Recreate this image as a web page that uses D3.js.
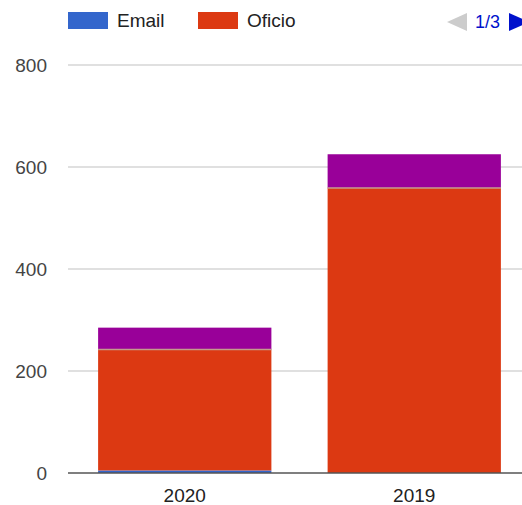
<!DOCTYPE html>
<html>
<head>
<meta charset="utf-8">
<script src="https://cdn.jsdelivr.net/npm/d3@7"></script>
<style>
  body { margin: 0; background: #fff; }
  svg { display: block; font-family: Arial, "Liberation Sans", sans-serif; }
</style>
</head>
<body>
<script>
// Data
const years = ['2020', '2019'];
const seriesNames = ['Email', 'Oficio', 'Otro'];
const email = [5, 0];
const oficio = [237, 559];
const otro = [43, 66];
const colors = ['#3366cc', '#dc3912', '#990099'];
const yTicks = [0, 200, 400, 600, 800];

const width = 522, height = 505;
const margin = { left: 68, right: -7, top: 65, bottom: 32 };

const svg = d3.select('body').append('svg')
    .attr('width', width)
    .attr('height', height);

const x = d3.scaleBand()
    .domain(years)
    .range([margin.left + 2, width - margin.right])
    .paddingInner(0.245)
    .paddingOuter(0.1225);

const y = d3.scaleLinear()
    .domain([0, 800])
    .range([height - margin.bottom, margin.top]);

// gridlines
svg.append('g')
    .selectAll('line')
    .data(yTicks.filter(d => d > 0))
    .join('line')
    .attr('x1', margin.left)
    .attr('x2', width)
    .attr('y1', d => y(d))
    .attr('y2', d => y(d))
    .attr('stroke', '#e0e0e0')
    .attr('stroke-width', 2);

// y axis labels
svg.append('g')
    .selectAll('text')
    .data(yTicks)
    .join('text')
    .attr('x', 47)
    .attr('y', d => y(d) + 7)
    .attr('text-anchor', 'end')
    .style('font-size', '19px')
    .style('fill', '#444')
    .text(d => d);

// stacked bars
const rows = years.map((yr, i) => ({ year: yr, Email: email[i], Oficio: oficio[i], Otro: otro[i] }));
const stack = d3.stack().keys(seriesNames)(rows);

svg.append('g')
    .selectAll('g')
    .data(stack)
    .join('g')
    .attr('fill', (d, i) => colors[i])
    .selectAll('rect')
    .data(d => d)
    .join('rect')
    .attr('x', d => x(d.data.year))
    .attr('width', x.bandwidth())
    .attr('y', d => y(d[1]))
    .attr('height', d => y(d[0]) - y(d[1]));

// thin separators between stacked segments
svg.append('g')
    .selectAll('line')
    .data(stack[1].filter(d => d[1] > d[0]))
    .join('line')
    .attr('x1', d => x(d.data.year))
    .attr('x2', d => x(d.data.year) + x.bandwidth())
    .attr('y1', d => y(d[1]))
    .attr('y2', d => y(d[1]))
    .attr('stroke', '#c49a8c')
    .attr('stroke-width', 1.5);

// baseline
svg.append('line')
    .attr('x1', margin.left)
    .attr('x2', width)
    .attr('y1', y(0))
    .attr('y2', y(0))
    .attr('stroke', '#555')
    .attr('stroke-width', 1.5);

// x axis labels
svg.append('g')
    .selectAll('text')
    .data(years)
    .join('text')
    .attr('x', d => x(d) + x.bandwidth() / 2)
    .attr('y', 502)
    .attr('text-anchor', 'middle')
    .style('font-size', '19px')
    .style('fill', '#222')
    .text(d => d);

// legend (first page)
const legend = svg.append('g');
const legendX = [68, 198];
seriesNames.slice(0, 2).forEach((name, i) => {
    legend.append('rect')
        .attr('x', legendX[i])
        .attr('y', 12)
        .attr('width', 40)
        .attr('height', 17)
        .attr('fill', colors[i]);
    legend.append('text')
        .attr('x', legendX[i] + 49)
        .attr('y', 27)
        .style('font-size', '19px')
        .style('fill', '#222')
        .text(name);
});

// legend paging
legend.append('path')
    .attr('d', 'M467,13 L467,31 L447,22 Z')
    .attr('fill', '#ccc');
legend.append('text')
    .attr('x', 475)
    .attr('y', 28)
    .style('font-size', '18px')
    .style('fill', '#0011cc')
    .text('1/3');
legend.append('path')
    .attr('d', 'M509,13 L509,31 L529,22 Z')
    .attr('fill', '#0011cc');
</script>
</body>
</html>
